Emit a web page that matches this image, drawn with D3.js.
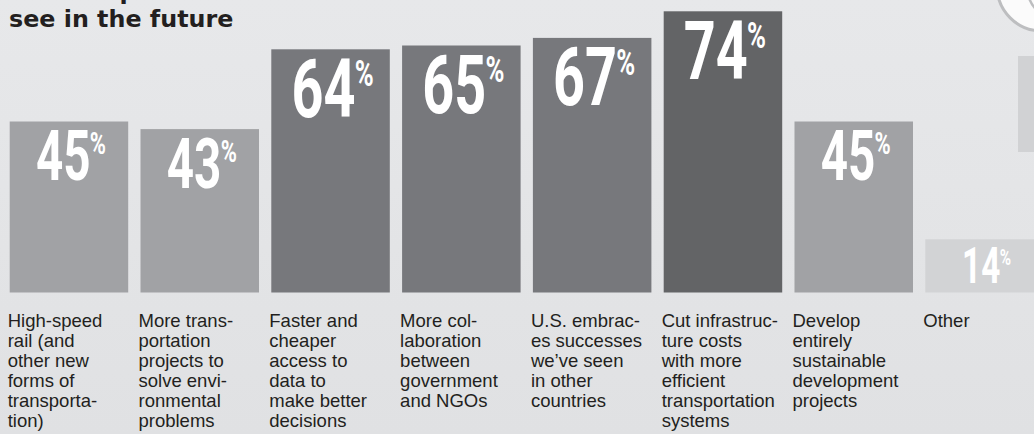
<!DOCTYPE html>
<html>
<meta charset="utf-8">
<head>
  <title>What experts want to see in the future</title>
</head>

<style>
body {
  margin: 0;
  overflow: hidden;
}
.title {
  font-family: "DejaVu Sans", Verdana, sans-serif;
  font-weight: bold;
  font-size: 23.8px;
  fill: #231f20;
}
.value {
  font-family: Roboto, sans-serif;
  font-weight: bold;
  fill: #fff;
}
.cat {
  font-family: "Liberation Sans", Arial, sans-serif;
  font-size: 18.5px;
  fill: #231f20;
}
</style>

<body>
  <svg id="chart" width="1034" height="434"></svg>

  <script src="https://cdnjs.cloudflare.com/ajax/libs/d3/7.8.5/d3.min.js"></script>

  <script>
var width = 1034, height = 434

// answers, already broken the way the print layout breaks them
var categories = [
  ['High-speed', 'rail (and', 'other new', 'forms of', 'transporta-', 'tion)'],
  ['More trans-', 'portation', 'projects to', 'solve envi-', 'ronmental', 'problems'],
  ['Faster and', 'cheaper', 'access to', 'data to', 'make better', 'decisions'],
  ['More col-', 'laboration', 'between', 'government', 'and NGOs'],
  ['U.S. embrac-', 'es successes', 'we\u2019ve seen', 'in other', 'countries'],
  ['Cut infrastruc-', 'ture costs', 'with more', 'efficient', 'transportation', 'systems'],
  ['Develop', 'entirely', 'sustainable', 'development', 'projects'],
  ['Other']
]
var values = [45, 43, 64, 65, 67, 74, 45, 14]

var titleLines = ['What experts want to', 'see in the future']

var svg = d3.select('#chart')

// page background
var grad = svg.append('defs').append('linearGradient')
  .attr('id', 'bg').attr('x1', 0).attr('y1', 0).attr('x2', 0).attr('y2', 1)
grad.append('stop').attr('offset', '0%').attr('stop-color', '#e7e8ea')
grad.append('stop').attr('offset', '100%').attr('stop-color', '#e0e1e3')
svg.append('rect').attr('width', width).attr('height', height).attr('fill', 'url(#bg)')

// bits of the neighbouring page furniture on the right
svg.append('circle').attr('cx', 1042).attr('cy', -14).attr('r', 45)
  .attr('fill', '#fbfbfb').attr('stroke', '#bdbec0').attr('stroke-width', 3)
svg.append('circle').attr('cx', 1062).attr('cy', -14).attr('r', 35)
  .attr('fill', 'none').attr('stroke', '#bdbec0').attr('stroke-width', 2.5)
svg.append('rect').attr('x', 1018).attr('y', 56).attr('width', 16).attr('height', 96)
  .attr('fill', '#d1d2d4')

// title (first line sits above the crop)
svg.append('g').selectAll('text')
  .data(titleLines)
  .enter()
  .append('text')
  .attr('class', 'title')
  .attr('x', 9)
  .attr('y', function(d, i) { return -1 + i * 28 })
  .text(function(d) { return d })

var x = d3.scaleBand()
  .domain(d3.range(values.length))
  .range([9.7, 1043.8])
  .paddingInner(0.094)
  .paddingOuter(0)

var y = d3.scaleLinear()
  .domain([0, 100])
  .range([292.5, -87.5])

// the bigger the share, the darker the bar
var color = d3.scaleThreshold()
  .domain([30, 60, 70])
  .range(['#d2d3d5', '#a1a2a5', '#77787c', '#636466'])

// and the bigger the number printed on it
var fontSize = d3.scaleThreshold()
  .domain([30, 60])
  .range([49, 70, 82])

var bars = svg.append('g').selectAll('g')
  .data(values)
  .enter()
  .append('g')

bars.append('rect')
  .attr('x', function(d, i) { return x(i) })
  .attr('y', function(d) { return y(d) })
  .attr('width', x.bandwidth())
  .attr('height', function(d) { return y(0) - y(d) })
  .attr('fill', function(d) { return color(d) })

var cap = 0.711
var label = bars.append('text')
  .attr('class', 'value')
  .attr('text-anchor', 'middle')
  .attr('transform', function(d, i) {
    var s = fontSize(d)
    return 'translate(' + (x(i) + x.bandwidth() / 2 + 2) + ',' + (y(d) + 9 + s * cap) + ') scale(0.68,1)'
  })
  .style('font-size', function(d) { return fontSize(d) + 'px' })

label.append('tspan')
  .text(function(d) { return d })

label.append('tspan')
  .attr('dx', -1)
  .attr('dy', function(d) {
    var s = fontSize(d)
    return -cap * (s - s * 0.46) + 1
  })
  .style('font-size', function(d) { return fontSize(d) * 0.46 + 'px' })
  .text('%')

// answer text under each bar
var cats = svg.append('g').selectAll('text')
  .data(categories)
  .enter()
  .append('text')
  .attr('class', 'cat')
  .attr('x', function(d, i) { return x(i) - 2 })
  .attr('y', 327)

cats.selectAll('tspan')
  .data(function(d) { return d })
  .enter()
  .append('tspan')
  .attr('x', function() { return this.parentNode.getAttribute('x') })
  .attr('dy', function(d, i) { return i ? 20 : 0 })
  .text(function(d) { return d })

  </script>
</body>
</html>
